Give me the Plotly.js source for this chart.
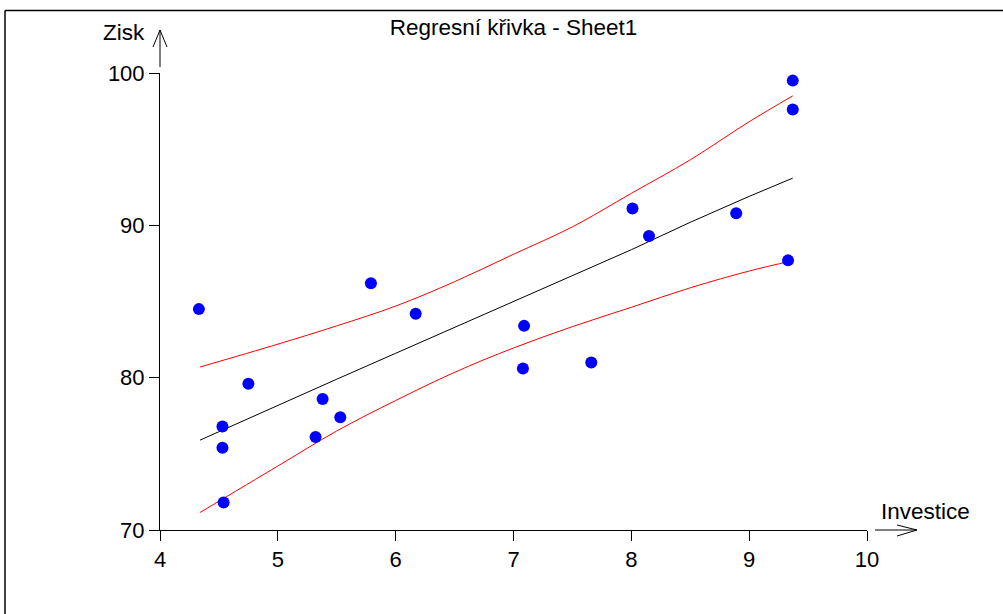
<!DOCTYPE html>
<html>
<head>
<meta charset="utf-8">
<script src="https://cdn.plot.ly/plotly-3.0.1.min.js"></script>
<style>html,body{margin:0;padding:0;background:#fff;}#chart{width:1003px;height:614px;}</style>
</head>
<body>
<div id="chart"></div>
<script>
// Observed data
var investice = [4.33, 4.53, 4.53, 4.54, 4.75, 5.32, 5.38, 5.53, 5.79, 6.17, 7.09, 7.08, 7.66, 8.01, 8.15, 8.89, 9.37, 9.37, 9.33];
var zisk      = [84.5, 76.8, 75.4, 71.8, 79.6, 76.1, 78.6, 77.4, 86.2, 84.2, 83.4, 80.6, 81.0, 91.1, 89.3, 90.8, 99.5, 97.6, 87.7];

// Regression curve and band
var fitX     = [4.34, 5.0, 5.5, 6.0, 6.5, 7.0, 7.5, 8.0, 8.5, 9.0, 9.37];
var fitY     = [75.9, 78.2, 79.9, 81.6, 83.3, 85.0, 86.7, 88.4, 90.2, 91.9, 93.1];
var upperY   = [80.7, 82.2, 83.4, 84.7, 86.3, 88.1, 89.9, 92.1, 94.3, 96.8, 98.5];
var lowerY   = [71.15, 74.2, 76.5, 78.5, 80.35, 81.95, 83.35, 84.62, 85.9, 87.0, 87.68];

var xTicks = [4, 5, 6, 7, 8, 9, 10];
var yTicks = [70, 80, 90, 100];

var FONT = '"Liberation Sans", Arial, sans-serif';

// pixel -> paper helpers (plot area 160..867 x 73..530)
var L = 160, R = 867, T = 73, B = 530;
function px(x) { return (x - L) / (R - L); }
function py(y) { return (B - y) / (B - T); }

var traces = [
  {x: fitX, y: upperY, mode: 'lines', line: {color: '#ff0000', width: 1, shape: 'spline', smoothing: 1}, hoverinfo: 'skip'},
  {x: fitX, y: lowerY, mode: 'lines', line: {color: '#ff0000', width: 1, shape: 'spline', smoothing: 1}, hoverinfo: 'skip'},
  {x: fitX, y: fitY, mode: 'lines', line: {color: '#000000', width: 1}, hoverinfo: 'skip'},
  {x: investice, y: zisk, mode: 'markers', marker: {color: '#0000ff', size: 12}}
];

function seg(x0, y0, x1, y1, w) {
  return {type: 'line', xref: 'paper', yref: 'paper', x0: px(x0), y0: py(y0), x1: px(x1), y1: py(y1),
          line: {color: '#000', width: w || 1}, layer: 'above'};
}

var shapes = [
  // frame
  seg(5, 10.5, 1003, 10.5, 1.5),
  seg(5, 10.5, 5, 614, 1.5),
  // y arrow
  seg(160, 67, 160, 30, 1),
  seg(160, 30, 153, 47, 1),
  seg(160, 30, 167, 47, 1),
  // x arrow
  seg(875, 530, 917, 530, 1),
  seg(917, 530, 897, 525, 1),
  seg(917, 530, 897, 536, 1)
];

var layout = {
  width: 1003, height: 614,
  margin: {l: L, r: 1003 - R, t: T, b: 614 - B, pad: 0},
  paper_bgcolor: '#fff', plot_bgcolor: '#fff',
  showlegend: false,
  font: {family: FONT, size: 22, color: '#000'},
  title: {text: 'Regresní křivka - Sheet1', font: {family: FONT, size: 22.5, color: '#000'},
          xref: 'paper', x: 0.5, xanchor: 'center', yref: 'container', y: 1 - 27 / 614, yanchor: 'middle'},
  xaxis: {range: [4, 10], tickvals: xTicks, ticktext: xTicks.map(String), showgrid: false, zeroline: false,
          showline: true, linecolor: '#000', linewidth: 1, ticks: 'outside', ticklen: 10, tickcolor: '#000',
          tickfont: {family: FONT, size: 22, color: '#000'}, fixedrange: true},
  yaxis: {range: [70, 100], tickvals: yTicks, ticktext: yTicks.map(String), showgrid: false, zeroline: false,
          showline: true, linecolor: '#000', linewidth: 1, ticks: 'outside', ticklen: 10, tickcolor: '#000',
          tickfont: {family: FONT, size: 22, color: '#000'}, fixedrange: true},
  shapes: shapes,
  annotations: [
    {text: 'Zisk', xref: 'paper', yref: 'paper', x: px(147), y: py(32), xanchor: 'right', yanchor: 'middle',
     showarrow: false, font: {family: FONT, size: 22.5, color: '#000'}},
    {text: 'Investice', xref: 'paper', yref: 'paper', x: px(879), y: py(511), xanchor: 'left', yanchor: 'middle',
     showarrow: false, font: {family: FONT, size: 22.5, color: '#000'}}
  ]
};

Plotly.newPlot('chart', traces, layout, {displayModeBar: false, staticPlot: true});
</script>
</body>
</html>
